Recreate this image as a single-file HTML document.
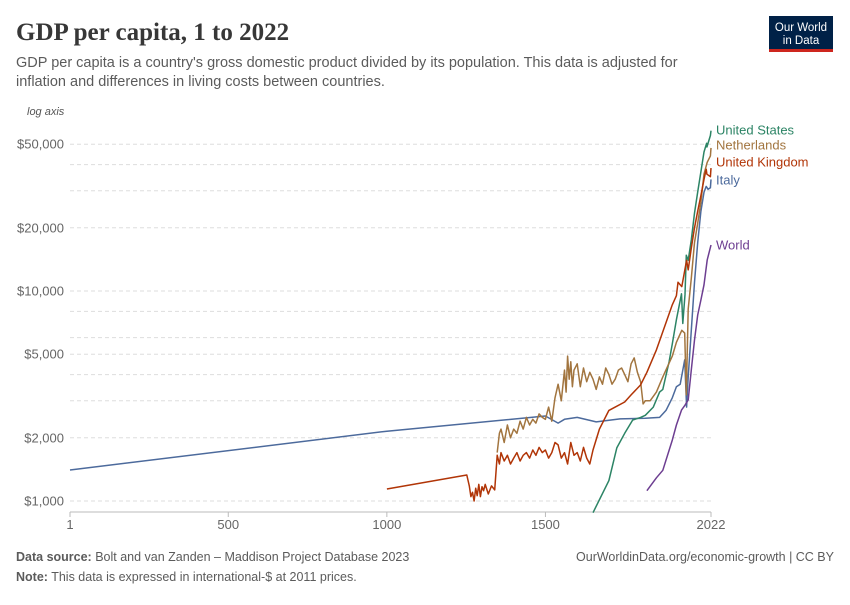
<!DOCTYPE html>
<html><head><meta charset="utf-8"><style>
body{margin:0;background:#fff;width:850px;height:600px;overflow:hidden;font-family:"Liberation Sans",sans-serif}
</style></head><body>
<svg id="c" width="850" height="600" xmlns="http://www.w3.org/2000/svg">
<text x="16" y="40" font-family="Liberation Serif,serif" font-size="25" font-weight="bold" fill="#373737">GDP per capita, 1 to 2022</text>
<text x="16" y="67" font-size="14.5" fill="#5b5b5b">GDP per capita is a country's gross domestic product divided by its population. This data is adjusted for</text>
<text x="16" y="86" font-size="14.5" fill="#5b5b5b">inflation and differences in living costs between countries.</text>
<g><rect x="769" y="16" width="64" height="36" fill="#002147"/><rect x="769" y="49" width="64" height="3" fill="#ce261e"/>
<text x="801" y="31" font-size="11.5" fill="#fff" text-anchor="middle">Our World</text><text x="801" y="44" font-size="11.5" fill="#fff" text-anchor="middle">in Data</text></g>
<text x="27" y="115" font-size="11" font-style="italic" fill="#555">log axis</text>
<g id="grid"></g><g id="series"></g>
<text x="16" y="561" font-size="12.5" fill="#5b5b5b"><tspan font-weight="bold">Data source:</tspan> Bolt and van Zanden – Maddison Project Database 2023</text>
<text x="834" y="561" font-size="12.5" fill="#5b5b5b" text-anchor="end">OurWorldinData.org/economic-growth | CC BY</text>
<text x="16" y="581" font-size="12.5" fill="#5b5b5b"><tspan font-weight="bold">Note:</tspan> This data is expressed in international-$ at 2011 prices.</text>
</svg>
<script>
const gridValues=[1000,2000,3000,4000,5000,6000,8000,10000,20000,30000,40000,50000];
const yTickValues=[1000,2000,5000,10000,20000,50000];
const yTickLabels=["$1,000","$2,000","$5,000","$10,000","$20,000","$50,000"];
const xTickValues=[1,500,1000,1500,2022];
const xTickLabels=["1","500","1000","1500","2022"];
const seriesNames=["United States","Netherlands","United Kingdom","Italy","World"];
const seriesColors=["#2c8465","#a2753f","#b13507","#4c6a9c","#6d3e91"];
const italyYears=[1,1000,1500,1540,1560,1600,1660,1735,1815,1860,1880,1900,1913,1925,1939,1945,1950,1960,1970,1980,1990,2000,2007,2013,2020,2022];
const italyVals=[1405,2150,2540,2350,2450,2500,2380,2460,2480,2500,2700,3100,3500,3600,4700,2800,3900,6500,11000,17000,24000,29500,31500,30500,31000,34000];
const usYears=[1650,1700,1725,1750,1775,1800,1815,1840,1860,1870,1890,1900,1913,1929,1933,1940,1944,1950,1960,1970,1980,1990,2000,2008,2009,2020,2022];
const usVals=[880,1250,1790,2100,2430,2500,2560,2800,3300,3400,4600,5600,7300,9700,7000,9600,14800,14000,17500,23500,29600,37000,45900,50500,48500,55000,58000];
const nlYears=[1348,1355,1360,1370,1380,1390,1400,1410,1420,1430,1440,1450,1460,1470,1480,1490,1500,1510,1520,1530,1540,1550,1560,1565,1570,1575,1580,1585,1590,1600,1610,1620,1630,1640,1650,1660,1670,1680,1690,1700,1710,1720,1730,1740,1750,1760,1770,1780,1790,1800,1808,1815,1830,1850,1870,1900,1913,1930,1939,1944,1950,1960,1970,1980,1990,2000,2010,2020,2022];
const nlVals=[1700,2100,2200,1900,2300,2000,2200,2100,2400,2200,2500,2300,2450,2350,2600,2500,2450,2800,2400,3100,3600,3000,4200,3300,4900,3800,4600,3500,4200,4500,3500,4300,3700,4100,3800,3400,3900,3600,4300,4000,3600,3800,4200,4300,4000,3700,4500,4800,4100,3700,2900,3000,3000,3300,3900,4900,5700,6500,6300,3200,8200,11500,17000,21000,26500,36000,41000,44000,48000];
const ukYears=[1000,1252,1260,1265,1270,1275,1280,1285,1290,1295,1300,1305,1310,1320,1330,1340,1348,1355,1360,1370,1380,1390,1400,1410,1420,1430,1440,1450,1460,1470,1480,1490,1500,1510,1520,1530,1540,1550,1560,1570,1580,1590,1600,1610,1620,1630,1640,1650,1670,1700,1720,1750,1770,1800,1820,1850,1870,1900,1913,1918,1930,1945,1950,1960,1970,1980,1990,2000,2007,2009,2020,2022];
const ukVals=[1140,1330,1180,1050,1100,1000,1150,1060,1200,1050,1170,1120,1200,1080,1180,1130,1650,1500,1700,1550,1650,1500,1600,1700,1550,1650,1700,1600,1750,1650,1800,1700,1750,1600,1700,1900,1850,1600,1700,1500,1900,1650,1700,1550,1800,1600,1500,1750,2200,2700,2800,2960,3200,3570,4100,5240,6400,8600,9500,11000,10500,14000,12600,16000,20000,24000,28500,34000,38000,36000,35000,38500];
const worldYears=[1820,1850,1870,1900,1913,1929,1940,1950,1960,1970,1980,1990,2000,2010,2022];
const worldVals=[1120,1290,1400,1950,2300,2710,2860,3030,4210,5840,7690,9060,10700,14050,16560];
const X0=70,X1=711,Y1000=501,DEC=210;
const xs=y=>X0+(y-1)*(X1-X0)/2021;
const ys=v=>Y1000-Math.log10(v/1000)*DEC;
const NS="http://www.w3.org/2000/svg";
const grid=document.getElementById('grid'),ser=document.getElementById('series');
function mk(tag,attrs,parent){const e=document.createElementNS(NS,tag);for(const k in attrs)e.setAttribute(k,attrs[k]);parent.appendChild(e);return e;}
gridValues.forEach(v=>{const l=mk('line',{x1:X0,x2:X1,y1:ys(v),y2:ys(v),stroke:'#ddd','stroke-dasharray':'4,3'},grid);

});
yTickValues.forEach((v,i)=>{const t=mk('text',{x:64,y:ys(v)+4.5,'text-anchor':'end','font-size':13,fill:'#666'},grid);t.textContent=yTickLabels[i];

});
const ax=mk('line',{x1:X0,x2:X1,y1:512,y2:512,stroke:'#bbb'},grid);


xTickValues.forEach((v,i)=>{mk('line',{x1:xs(v),x2:xs(v),y1:512,y2:517,stroke:'#bbb'},grid);
const t=mk('text',{x:xs(v),y:529,'text-anchor':'middle','font-size':13,fill:'#666'},grid);t.textContent=xTickLabels[i];

});
const data=[[usYears,usVals],[nlYears,nlVals],[ukYears,ukVals],[italyYears,italyVals],[worldYears,worldVals]];
const labelY=[130,145,162,180,245];
[3,4,0,1,2].forEach(i=>{const [yr,vl]=data[i];
const p=mk('polyline',{points:yr.map((y,j)=>xs(y).toFixed(1)+','+ys(vl[j]).toFixed(1)).join(' '),fill:'none',stroke:seriesColors[i],'stroke-width':1.5,'stroke-linejoin':'round'},ser);


const t=mk('text',{x:716,y:labelY[i]+4.5,'font-size':13,fill:seriesColors[i]},ser);t.textContent=seriesNames[i];

});
</script>
</body></html>
